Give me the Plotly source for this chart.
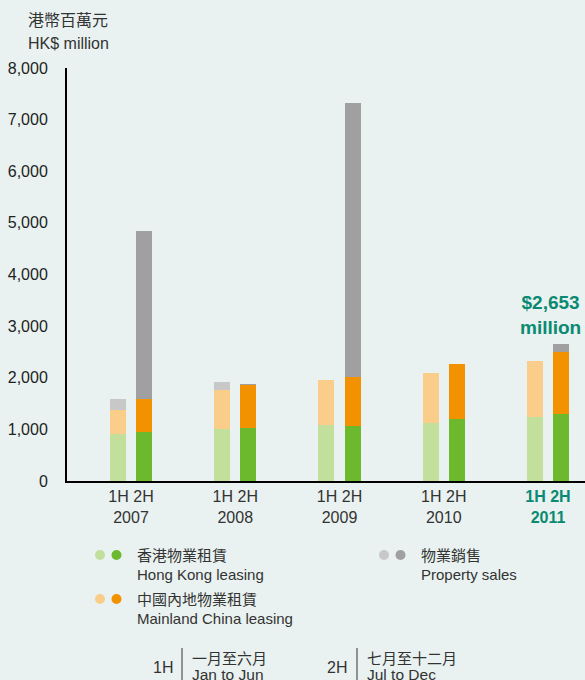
import plotly.graph_objects as go

# ---- data (HK$ million) ----
years = ["2007", "2008", "2009", "2010", "2011"]
hk_1h = [916, 1007, 1085, 1123, 1240]
ml_1h = [459, 756, 871, 969, 1084]
sales_1h = [213, 155, 0, 0, 0]
hk_2h = [955, 1032, 1065, 1201, 1298]
ml_2h = [628, 828, 949, 1065, 1207]
sales_2h = [3260, 19, 5308, 0, 148]
total_2011_label = "$2,653<br>million"
ytick_vals = [0, 1000, 2000, 3000, 4000, 5000, 6000, 7000, 8000]

# ---- style ----
W, H = 585, 680
ML, MR, MT, MB = 67, 0, 68, 199
BG = "#e9f2f0"
TEAL = "#0a8a72"
TXT = "#333333"
FONT = "Liberation Sans, Noto Sans CJK TC, sans-serif"
C_HK = ("#c2df9b", "#6cb92e")
C_ML = ("#fbcd8b", "#f39200")
C_SA = ("#c8c8c8", "#a0a0a0")
BAR_W = 0.153
OFF = 0.125

def px(x):
    return (x - ML) / (W - ML - MR)

def py(y):
    return (H - MB - y) / (H - MT - MB)

idx = list(range(len(years)))
x1 = [i - OFF for i in idx]
x2 = [i + OFF for i in idx]

fig = go.Figure()
for xs, vals, col in [
    (x1, hk_1h, C_HK[0]), (x1, ml_1h, C_ML[0]), (x1, sales_1h, C_SA[0]),
    (x2, hk_2h, C_HK[1]), (x2, ml_2h, C_ML[1]), (x2, sales_2h, C_SA[1]),
]:
    fig.add_trace(go.Bar(x=xs, y=vals, width=BAR_W, marker=dict(color=col, line=dict(width=0)),
                         showlegend=False, hoverinfo="skip"))

ticktext = []
for i, yr in enumerate(years):
    if i == len(years) - 1:
        ticktext.append(f"<b><span style='color:{TEAL}'>1H 2H</span></b><br><b><span style='color:{TEAL}'>{yr}</span></b>")
    else:
        ticktext.append(f"1H 2H<br>{yr}")

fig.update_layout(
    width=W, height=H, barmode="stack",
    margin=dict(l=ML, r=MR, t=MT, b=MB, pad=0),
    paper_bgcolor=BG, plot_bgcolor=BG,
    font=dict(family=FONT, color=TXT, size=15),
    xaxis=dict(range=[-0.614, 4.355], tickvals=idx, ticktext=ticktext, showgrid=False,
               zeroline=False, showline=True, linecolor="black", linewidth=2,
               ticks="", tickfont=dict(size=16, color=TXT), fixedrange=True),
    yaxis=dict(range=[0, 8000], tickvals=ytick_vals, tickformat=",", showgrid=False,
               zeroline=False, showline=True, linecolor="black", linewidth=2,
               ticks="", ticklabelstandoff=14, tickfont=dict(size=16, color="#222222"),
               fixedrange=True),
)

ann = []
# axis title
ann.append(dict(x=px(26), y=py(21), text="港幣百萬元", xanchor="left", yanchor="middle",
                font=dict(size=16)))
ann.append(dict(x=px(26), y=py(43), text="HK$ million", xanchor="left", yanchor="middle",
                font=dict(size=16)))
# total label
ann.append(dict(x=4 + OFF, y=2653, xref="x", yref="y", text=f"<b>{total_2011_label}</b>",
                xanchor="center", yanchor="bottom", xshift=-11, yshift=4,
                font=dict(size=19, color=TEAL), align="center"))

shapes = []
legend_items = [
    (100, 555, C_HK, "香港物業租賃", "Hong Kong leasing"),
    (100, 599, C_ML, "中國內地物業租賃", "Mainland China leasing"),
    (384, 555, C_SA, "物業銷售", "Property sales"),
]
for lx, ly, cols, zh, en in legend_items:
    for k, c in enumerate(cols):
        cx = lx + k * 16.5
        shapes.append(dict(type="circle", xref="paper", yref="paper",
                           x0=px(cx - 5), x1=px(cx + 5), y0=py(ly + 5), y1=py(ly - 5),
                           fillcolor=c, line=dict(width=0)))
    ann.append(dict(x=px(lx + 35), y=py(ly), text=zh, xanchor="left", yanchor="middle"))
    ann.append(dict(x=px(lx + 35), y=py(ly + 19), text=en, xanchor="left", yanchor="middle"))

# footnote
for cx, lx, zh, en in [(163, 182, "一月至六月", "Jan to Jun"), (337, 357, "七月至十二月", "Jul to Dec")]:
    ann.append(dict(x=px(cx), y=py(667), text=cx == 163 and "1H" or "2H",
                    xanchor="center", yanchor="middle", font=dict(size=16)))
    shapes.append(dict(type="line", xref="paper", yref="paper", x0=px(lx), x1=px(lx),
                       y0=py(648), y1=py(682), line=dict(color="#333333", width=1)))
    ann.append(dict(x=px(lx + 8), y=py(658), text=zh, xanchor="left", yanchor="middle",
                    font=dict(size=15)))
    ann.append(dict(x=px(lx + 8), y=py(674), text=en, xanchor="left", yanchor="middle",
                    font=dict(size=15.5)))

for a in ann:
    a.setdefault("xref", "paper")
    a.setdefault("yref", "paper")
    a.setdefault("showarrow", False)
fig.update_layout(annotations=ann, shapes=shapes)

fig.write_html("out.html", config={"displayModeBar": False},
               post_script="document.body.style.margin='0';document.body.style.overflow='hidden';")
